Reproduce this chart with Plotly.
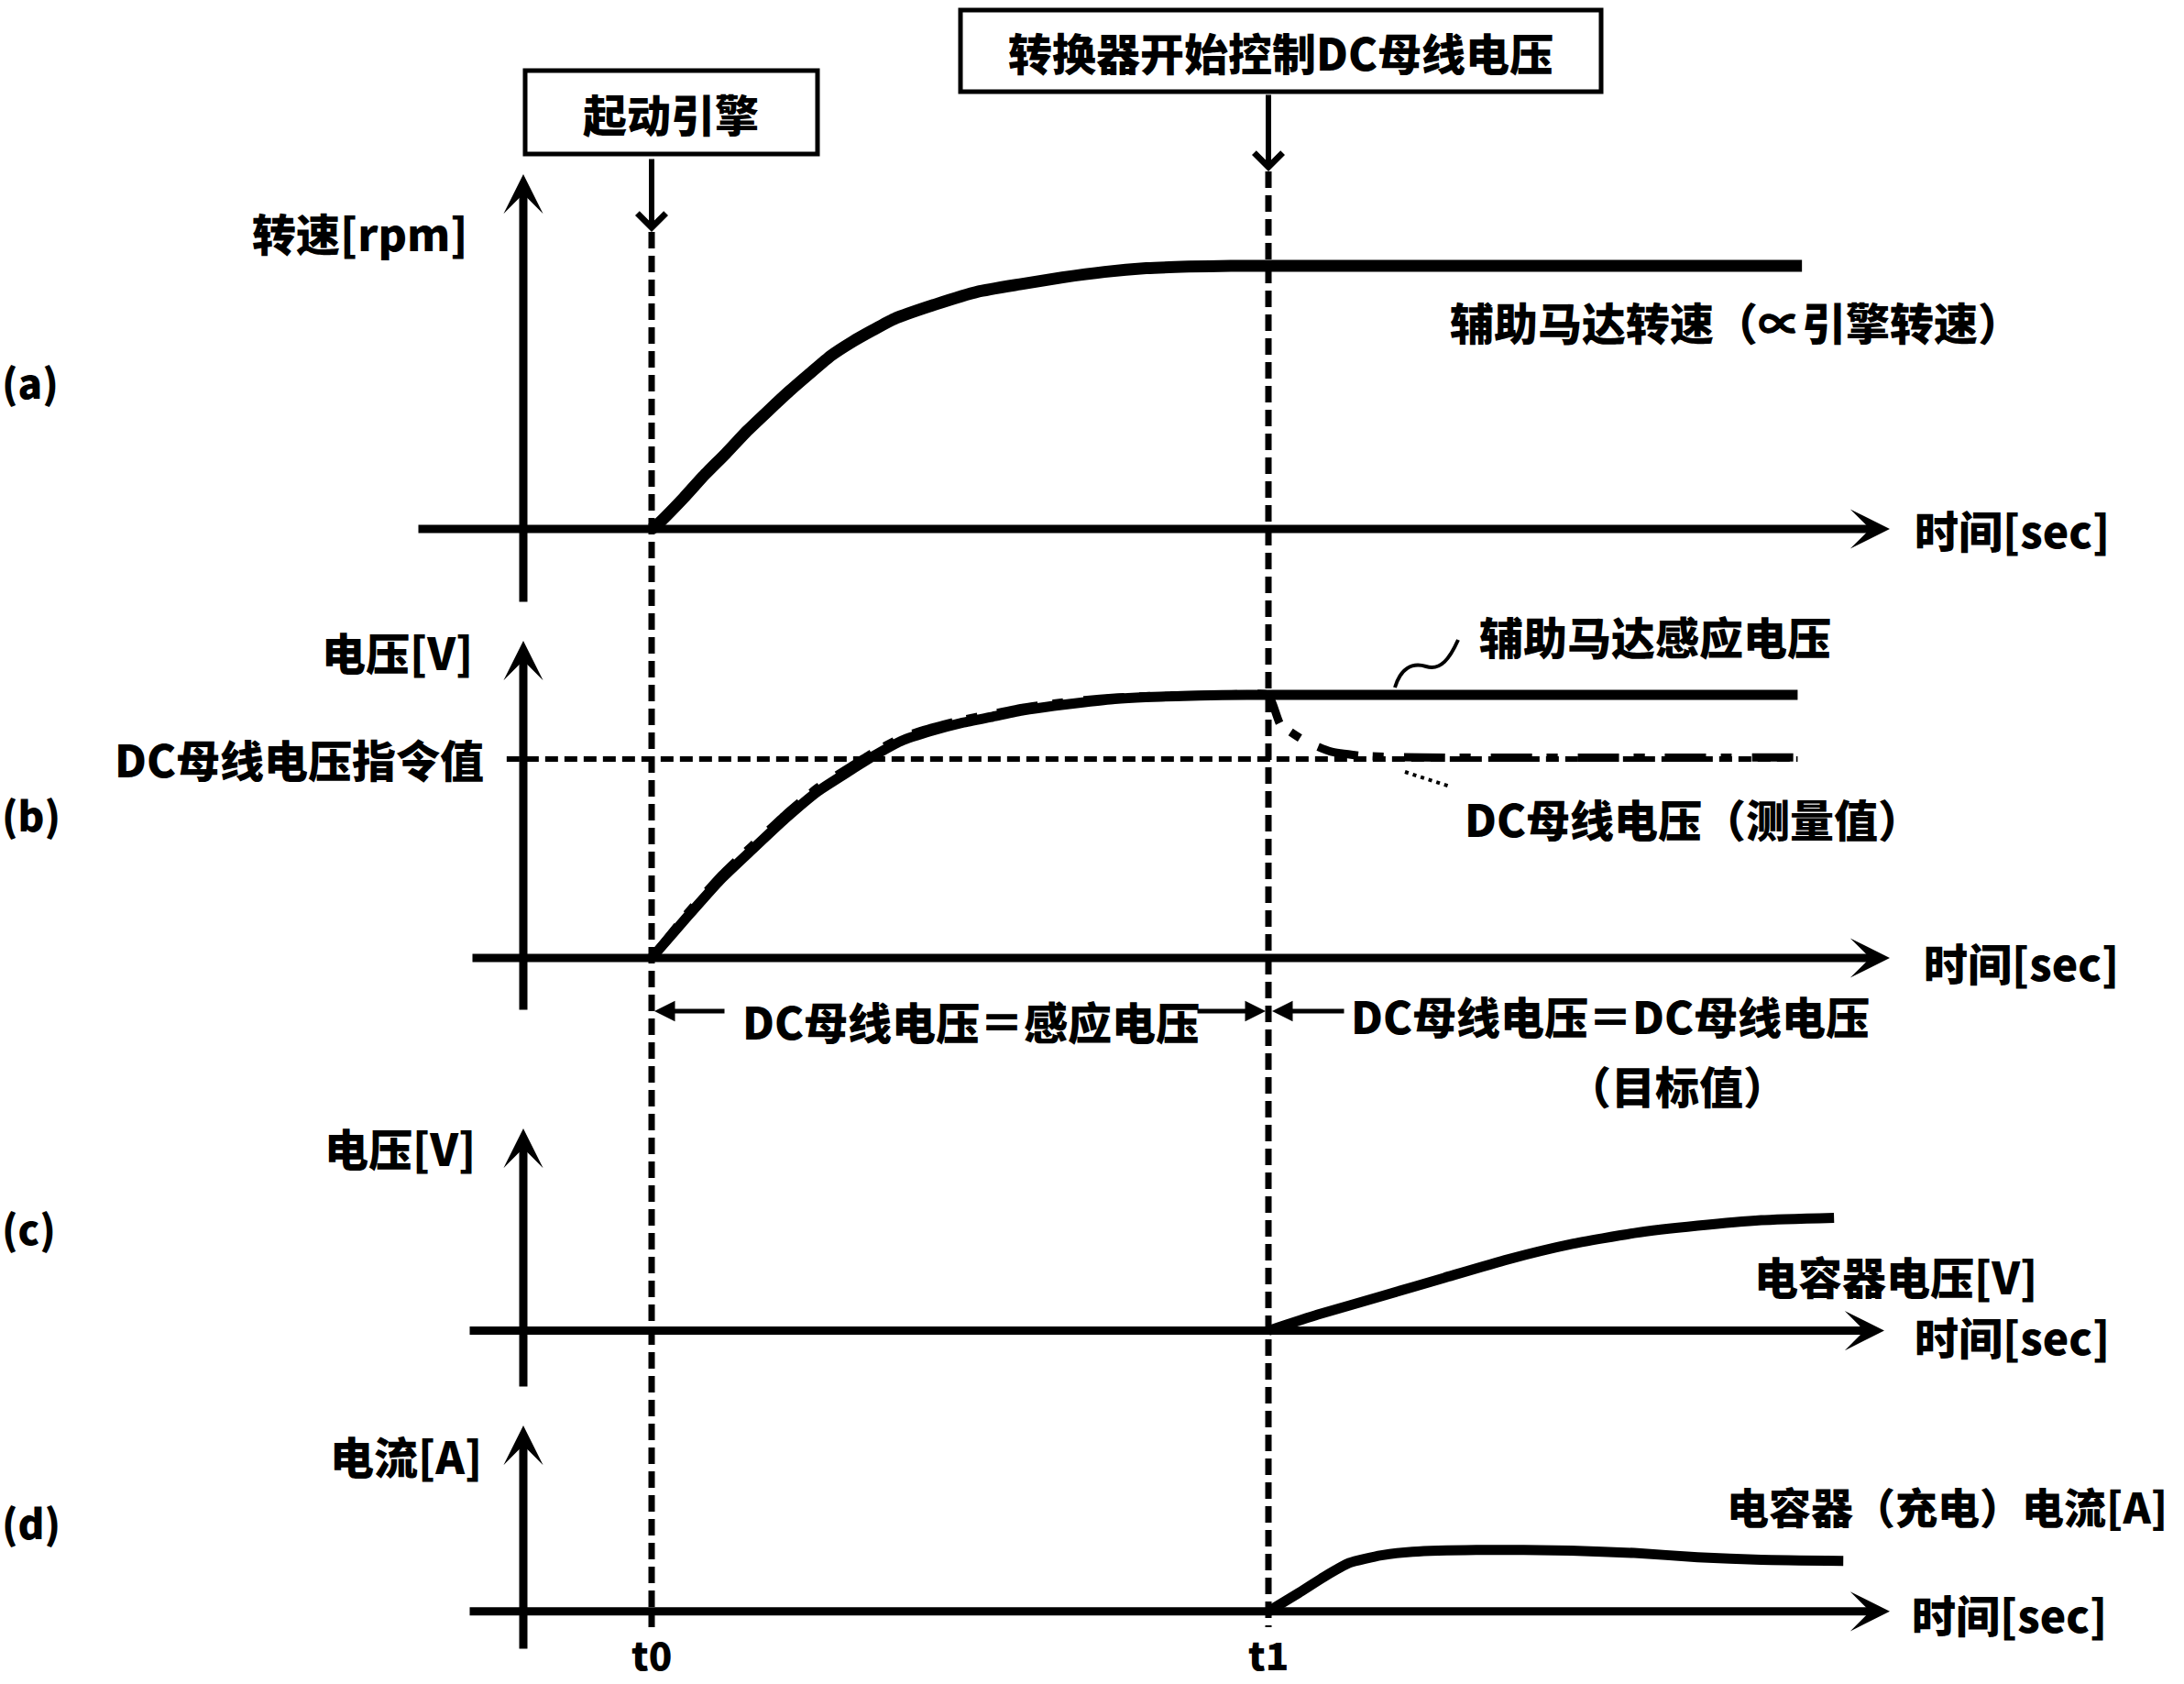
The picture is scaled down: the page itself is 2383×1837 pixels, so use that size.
import plotly.graph_objects as go

W, H = 2383, 1837

# ---------------- data (time in units where t0 = 0, t1 = 1) ----------------
# (a) auxiliary motor speed (normalised to plateau = 1)
t_speed = [0, 0.010, 0.052, 0.086, 0.120, 0.155, 0.189, 0.223, 0.257, 0.291, 0.325,
           0.359, 0.393, 0.461, 0.529, 0.597, 0.666, 0.734, 0.802, 0.871, 0.939, 1.0, 1.865]
speed = [0, 0.018, 0.118, 0.206, 0.286, 0.373, 0.449, 0.523, 0.592, 0.659, 0.711,
         0.756, 0.798, 0.854, 0.902, 0.930, 0.956, 0.977, 0.991, 0.997, 1.0, 1.0, 1.0]

# (b) induced voltage of auxiliary motor
t_induced = [0, 0.058, 0.111, 0.163, 0.217, 0.270, 0.323, 0.355, 0.405, 0.454, 0.504,
             0.553, 0.603, 0.652, 0.702, 0.751, 0.801, 0.850, 0.925, 1.0, 1.858]
induced = [0, 0.157, 0.296, 0.412, 0.530, 0.634, 0.714, 0.761, 0.825, 0.863, 0.894,
           0.917, 0.941, 0.958, 0.972, 0.984, 0.991, 0.995, 0.999, 1.0, 1.0]

# (b) DC bus voltage (measured)
t_measured = [0, 0.058, 0.111, 0.163, 0.217, 0.270, 0.323, 0.355, 0.405, 0.454, 0.504,
              0.553, 0.603, 0.652, 0.702, 0.751, 0.801, 0.850, 0.925, 1.0,
              1.019, 1.058, 1.100, 1.150, 1.250, 1.858]
measured = [0, 0.170, 0.310, 0.427, 0.545, 0.649, 0.728, 0.775, 0.838, 0.875, 0.905,
            0.928, 0.951, 0.967, 0.980, 0.990, 0.995, 0.998, 1.0, 1.0,
            0.889, 0.826, 0.785, 0.768, 0.762, 0.762]

# (b) DC bus voltage command value
t_command = [-0.235, 1.858]
command = [0.756, 0.756]

# (c) capacitor voltage
t_cap_v = [1.0, 1.080, 1.183, 1.285, 1.388, 1.491, 1.593, 1.696, 1.799, 1.917]
cap_v = [0, 0.061, 0.131, 0.201, 0.271, 0.329, 0.371, 0.399, 0.420, 0.429]

# (d) capacitor (charging) current
t_cap_i = [1.0, 1.049, 1.090, 1.131, 1.183, 1.234, 1.337, 1.491, 1.593, 1.696, 1.799, 1.932]
cap_i = [0, 0.070, 0.131, 0.184, 0.213, 0.227, 0.234, 0.231, 0.222, 0.206, 0.196, 0.192]

# ---------------- layout helpers (pixel -> axis units) ----------------
T0_PX, T1_PX = 711.0, 1384.0
PER = 287.0
BASE = {"y": 577.0, "y2": 1045.0, "y3": 1451.6, "y4": 1757.8}


def xt(X):
    return (X - T0_PX) / (T1_PX - T0_PX)


def yv(Y, ax):
    return (BASE[ax] - Y) / PER


def py(Y):
    return 1 - Y / H


FONT = "Noto Sans CJK SC"
FS = 48
BLACK = "black"

fig = go.Figure()

fig.add_trace(go.Scatter(x=t_command, y=command, yaxis="y2", mode="lines",
                         line=dict(color=BLACK, width=6, dash="14px,7px")))
fig.add_trace(go.Scatter(x=t_speed, y=speed, yaxis="y", mode="lines",
                         line=dict(color=BLACK, width=13, shape="spline", smoothing=0.5)))
fig.add_trace(go.Scatter(x=t_measured, y=measured, yaxis="y2", mode="lines",
                         line=dict(color=BLACK, width=9, shape="spline", smoothing=0.4,
                                   dash="45px,16px,12px,22px")))
fig.add_trace(go.Scatter(x=t_induced, y=induced, yaxis="y2", mode="lines",
                         line=dict(color=BLACK, width=11, shape="spline", smoothing=0.5)))
fig.add_trace(go.Scatter(x=t_cap_v, y=cap_v, yaxis="y3", mode="lines",
                         line=dict(color=BLACK, width=11, shape="spline", smoothing=0.5)))
fig.add_trace(go.Scatter(x=t_cap_i, y=cap_i, yaxis="y4", mode="lines",
                         line=dict(color=BLACK, width=11, shape="spline", smoothing=0.5)))

annotations = []
shapes = []


def arrow(x0, y0, x1, y1, ax, width, head, size):
    annotations.append(dict(x=x1, y=y1, ax=x0, ay=y0, xref="x", yref=ax, axref="x", ayref=ax,
                            text="", showarrow=True, arrowhead=head, arrowsize=size,
                            arrowwidth=width, arrowcolor=BLACK, standoff=0, startstandoff=0))


def label(X, Y, text, anchor="left", size=FS, yanchor="middle"):
    annotations.append(dict(x=xt(X), y=py(Y), xref="x", yref="paper", text=text,
                            showarrow=False, xanchor=anchor, yanchor=yanchor,
                            font=dict(family=FONT, size=size, color=BLACK, weight=900)))


# axes (drawn as arrows)
YAX_X = xt(571)
axes_spec = [
    # yaxis id, y-axis bottom px, y-axis tip px, x-axis start px, x-axis tip px
    ("y", 658, 190, 455, 2062),
    ("y2", 1103, 699, 514, 2062),
    ("y3", 1514, 1231, 511, 2056),
    ("y4", 1800, 1555, 511, 2062),
]
for ax, ybot, ytip, xs, xtip in axes_spec:
    arrow(YAX_X, yv(ybot, ax), YAX_X, yv(ytip, ax), ax, 9, 3, 0.8)
    arrow(xt(xs), 0, xt(xtip), 0, ax, 9, 3, 0.8)

# vertical dashed event lines
for X, ytop in [(T0_PX, 253), (T1_PX, 187)]:
    shapes.append(dict(type="line", xref="x", yref="paper", x0=xt(X), x1=xt(X),
                       y0=py(ytop), y1=py(1775),
                       line=dict(color=BLACK, width=7, dash="18px,8px")))

# boxes at top
shapes.append(dict(type="rect", xref="x", yref="paper", x0=xt(573), x1=xt(892),
                   y0=py(168), y1=py(77), line=dict(color=BLACK, width=5)))
shapes.append(dict(type="rect", xref="x", yref="paper", x0=xt(1048), x1=xt(1747),
                   y0=py(100), y1=py(11), line=dict(color=BLACK, width=5)))
label(732, 123, "起动引擎", "center")
label(1397, 56, "转换器开始控制DC母线电压", "center")
arrow(xt(T0_PX), yv(172, "y"), xt(T0_PX), yv(253, "y"), "y", 6, 4, 1.0)
arrow(xt(T1_PX), yv(102, "y"), xt(T1_PX), yv(187, "y"), "y", 6, 4, 1.0)

# leader for induced voltage label (squiggle)
P = lambda X, Y: f"{xt(X):.5f},{yv(Y, 'y2'):.5f}"
shapes.append(dict(type="path", xref="x", yref="y2",
                   path=f"M{P(1522,750)} C{P(1528,730)} {P(1540,722)} {P(1556,727)} "
                        f"C{P(1572,732)} {P(1582,718)} {P(1591,698)}",
                   line=dict(color=BLACK, width=4)))
# leader for measured label (dotted)
shapes.append(dict(type="line", xref="x", yref="y2", x0=xt(1533), y0=yv(842, "y2"),
                   x1=xt(1582), y1=yv(858, "y2"), line=dict(color=BLACK, width=4, dash="4px,5px")))

# panel tags
label(0, 416, "(a)", "left", 44)
label(0, 888, "(b)", "left", 44)
label(0, 1339, "(c)", "left", 44)
label(0, 1660, "(d)", "left", 44)

# axis titles
label(513, 253, "转速[rpm]", "right")
label(518, 710, "电压[V]", "right")
label(530, 827, "DC母线电压指令值", "right")
label(521, 1251, "电压[V]", "right")
label(528, 1587, "电流[A]", "right")
for X, Y in [(2087, 577), (2097, 1049), (2087, 1457), (2084, 1760)]:
    label(X, Y, "时间[sec]", "left")

# curve labels
label(1580, 350, "辅助马达转速（∝引擎转速）", "left")
label(1612, 693, "辅助马达感应电压", "left")
label(1596, 892, "DC母线电压（测量值）", "left")
label(1912, 1391, "电容器电压[V]", "left")
label(1882, 1642, "电容器（充电）电流[A]", "left", 46)

# interval annotations
label(1059, 1113, "DC母线电压＝感应电压", "center")
label(1757, 1144, "DC母线电压＝DC母线电压", "center", FS, "bottom")
label(1830, 1146, "（目标值）", "center", FS, "top")
arrow(xt(792), yv(1103, "y2"), xt(714), yv(1103, "y2"), "y2", 5, 2, 0.9)
arrow(xt(1305), yv(1103, "y2"), xt(1381), yv(1103, "y2"), "y2", 5, 2, 0.9)
arrow(xt(1468), yv(1103, "y2"), xt(1388), yv(1103, "y2"), "y2", 5, 2, 0.9)

# time markers
label(T0_PX, 1836, "t0", "center", 42, "bottom")
label(T1_PX, 1836, "t1", "center", 42, "bottom")


def yrange(ax):
    return [yv(H, ax), yv(0, ax)]


fig.update_layout(
    width=W, height=H, autosize=False,
    margin=dict(l=0, r=0, t=0, b=0, pad=0),
    paper_bgcolor="white", plot_bgcolor="white",
    showlegend=False,
    xaxis=dict(range=[xt(0), xt(W)], visible=False, fixedrange=True),
    yaxis=dict(range=yrange("y"), visible=False, fixedrange=True, domain=[0, 1]),
    yaxis2=dict(range=yrange("y2"), visible=False, fixedrange=True, overlaying="y"),
    yaxis3=dict(range=yrange("y3"), visible=False, fixedrange=True, overlaying="y"),
    yaxis4=dict(range=yrange("y4"), visible=False, fixedrange=True, overlaying="y"),
    annotations=annotations,
    shapes=shapes,
)

fig.write_html(
    "out.html",
    config={"displayModeBar": False},
    post_script="document.body.style.margin='0px';document.body.style.overflow='hidden';",
)
